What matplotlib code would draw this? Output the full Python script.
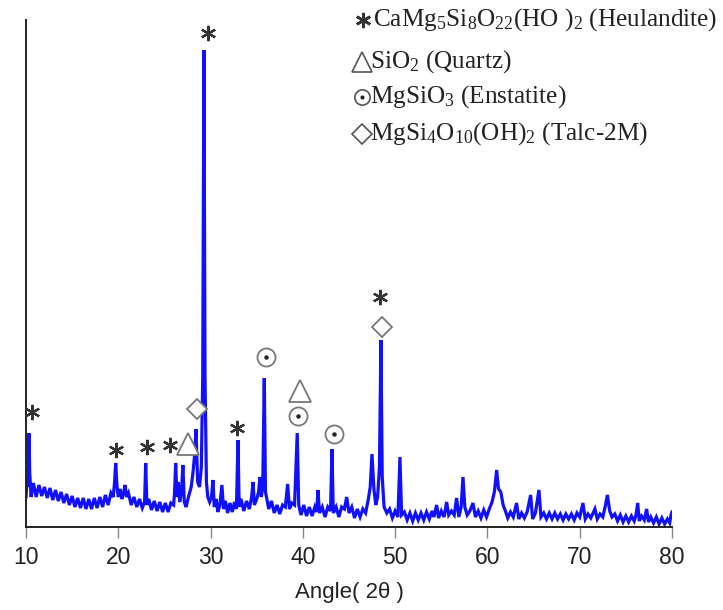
import matplotlib
matplotlib.use("Agg")
import matplotlib.pyplot as plt

# ---- data: XRD pattern (2theta, intensity a.u.) ----
two_theta = [
    10.00, 10.10, 10.20, 10.28, 10.33, 10.40, 10.48, 10.55,
    10.8, 11.1, 11.4, 11.7, 12.0, 12.3, 12.6, 12.9, 13.2, 13.5, 13.8, 14.1,
    14.4, 14.7, 15.0, 15.3, 15.6, 15.9, 16.2, 16.5, 16.8, 17.1, 17.4, 17.7,
    18.0, 18.3, 18.6, 18.9, 19.2, 19.45, 19.6, 19.72, 19.85, 20.0, 20.2, 20.4,
    20.6, 20.73, 20.9, 21.1, 21.4, 21.7, 22.0, 22.3, 22.6, 22.85, 22.97, 23.1,
    23.3, 23.6, 23.9, 24.2, 24.5, 24.8, 25.1, 25.4, 25.7, 26.0, 26.1, 26.22,
    26.35, 26.5, 26.65, 26.85, 27.0, 27.15, 27.35, 27.6, 27.9, 28.1, 28.25, 28.42,
    28.6, 28.8, 29.0, 29.15, 29.28, 29.4, 29.55, 29.7, 29.9, 30.1, 30.26, 30.4,
    30.6, 30.8, 31.0, 31.23, 31.4, 31.6, 31.85, 32.1, 32.35, 32.6, 32.8, 32.97,
    33.1, 33.3, 33.6, 33.9, 34.2, 34.45, 34.6, 34.75, 35.0, 35.2, 35.35, 35.5,
    35.65, 35.82, 35.95, 36.1, 36.3, 36.6, 36.9, 37.2, 37.5, 37.8, 38.1, 38.35,
    38.55, 38.8, 39.1, 39.39, 39.55, 39.8, 40.1, 40.4, 40.7, 41.0, 41.3, 41.5,
    41.64, 41.8, 42.1, 42.4, 42.7, 43.0, 43.15, 43.3, 43.6, 43.9, 44.2, 44.5,
    44.75, 45.0, 45.3, 45.6, 45.9, 46.2, 46.5, 46.8, 47.1, 47.3, 47.49, 47.7,
    47.9, 48.1, 48.3, 48.46, 48.6, 48.8, 49.1, 49.4, 49.7, 50.0, 50.3, 50.52,
    50.7, 51.0, 51.3, 51.6, 51.9, 52.2, 52.5, 52.8, 53.1, 53.4, 53.7, 54.0,
    54.2, 54.5, 54.7, 55.0, 55.3, 55.58, 55.8, 56.1, 56.4, 56.66, 56.9, 57.15,
    57.35, 57.55, 57.8, 58.1, 58.43, 58.7, 59.0, 59.3, 59.6, 59.9, 60.2, 60.5,
    60.75, 61.0, 61.2, 61.45, 61.7, 61.95, 62.2, 62.5, 62.8, 63.16, 63.4, 63.7,
    64.0, 64.3, 64.68, 64.9, 65.2, 65.58, 65.8, 66.1, 66.4, 66.7, 67.0, 67.3,
    67.6, 67.9, 68.2, 68.5, 68.8, 69.1, 69.4, 69.7, 70.0, 70.35, 70.6, 70.9,
    71.2, 71.45, 71.65, 71.9, 72.2, 72.5, 72.75, 73.0, 73.25, 73.5, 73.8, 74.1,
    74.4, 74.7, 75.0, 75.3, 75.6, 75.9, 76.1, 76.28, 76.45, 76.7, 77.0, 77.25,
    77.45, 77.7, 78.0, 78.3, 78.6, 78.9, 79.2, 79.5, 79.75, 79.9, 80.0,
]
intensity = [
    30, 45, 40, 60, 94, 55, 42, 30,
    44, 30, 42, 31, 40, 29, 39, 27, 37, 26, 35, 24,
    33, 22, 31, 20, 29, 19, 29, 18, 28, 18, 29, 19,
    30, 20, 32, 22, 34, 30, 45, 64, 42, 30, 38, 28,
    35, 42, 30, 34, 22, 30, 20, 28, 19, 25, 64, 22,
    28, 17, 26, 16, 25, 15, 24, 15, 24, 22, 35, 64,
    30, 45, 25, 35, 62, 25, 20, 30, 40, 55, 70, 98,
    45, 40, 60, 150, 477, 150, 45, 30, 25, 30, 47, 20,
    28, 15, 22, 42, 18, 26, 14, 24, 15, 25, 18, 87,
    20, 28, 16, 26, 18, 30, 45, 22, 28, 35, 50, 30,
    40, 149, 35, 28, 18, 26, 14, 22, 13, 22, 20, 43,
    18, 24, 22, 94, 22, 12, 22, 11, 20, 11, 20, 15,
    37, 14, 20, 10, 20, 16, 78, 14, 20, 10, 20, 18,
    30, 14, 20, 9, 18, 10, 18, 14, 28, 40, 73, 38,
    22, 30, 60, 187, 50, 20, 14, 18, 9, 16, 10, 70,
    12, 15, 7, 14, 6, 14, 7, 14, 7, 15, 8, 16,
    10, 22, 9, 16, 10, 25, 12, 16, 12, 29, 10, 20,
    50, 20, 12, 16, 24, 10, 16, 9, 17, 10, 18, 25,
    35, 57, 38, 35, 22, 16, 9, 15, 10, 24, 8, 14,
    9, 15, 32, 8, 14, 37, 10, 14, 8, 14, 8, 14,
    8, 13, 7, 13, 8, 13, 7, 14, 10, 24, 8, 13,
    9, 14, 18, 8, 13, 10, 20, 32, 16, 10, 13, 6,
    12, 5, 11, 5, 11, 6, 12, 24, 6, 11, 7, 18,
    5, 10, 4, 10, 3, 9, 3, 8, 4, 12, 15,
]

x_ticks = [10, 20, 30, 40, 50, 60, 70, 80]
x_label = "Angle( 2θ )"

# phase markers: (2theta, intensity) where each symbol sits
heulandite_marks = [(10.62, 115), (19.72, 77), (23.08, 80), (25.6, 82),
                    (29.69, 494), (32.86, 99), (48.35, 230)]
quartz_marks = [(27.58, 83), (39.69, 136)]
enstatite_marks = [(36.0, 170), (39.44, 111), (43.4, 93)]
talc_marks = [(28.49, 118), (48.54, 200)]

legend_labels = [
    r"CaMg$_5$Si$_8$O$_{22}$(HO )$_2$ (Heulandite)",
    r"SiO$_2$ (Quartz)",
    r"MgSiO$_3$ (Enstatite)",
    r"MgSi$_4$O$_{10}$(OH)$_2$ (Talc-2M)",
]

plt.rcParams["mathtext.fontset"] = "custom"
plt.rcParams["mathtext.rm"] = "Liberation Serif"
plt.rcParams["mathtext.it"] = "Liberation Serif:italic"
plt.rcParams["mathtext.bf"] = "Liberation Serif:bold"

fig = plt.figure(figsize=(7.23, 6.10), dpi=100)
ax = fig.add_axes([26 / 723, 1 - 527 / 610, (672 - 26) / 723, (527 - 20) / 610])

ax.plot(two_theta, intensity, color="#1010ff", lw=2.3, solid_joinstyle="miter")
ax.set_xlim(10, 80)
ax.set_ylim(0, 507)

for s in ("top", "right"):
    ax.spines[s].set_visible(False)
for s in ("left", "bottom"):
    ax.spines[s].set_linewidth(1.4)
    ax.spines[s].set_color("#222222")
ax.set_yticks([])
ax.set_xticks(x_ticks)
ax.tick_params(axis="x", direction="out", length=8, width=1.0, color="#888888",
               labelsize=16.5, labelcolor="#222222", pad=6)
for lab in ax.get_xticklabels():
    lab.set_fontfamily("Liberation Sans")
ax.set_xlabel(x_label, fontsize=16, family="Liberation Sans", color="#222222", labelpad=9)

grey = "#777777"
dark = "#333333"
kw = dict(linestyle="none", clip_on=False, zorder=5)
ax.plot(*zip(*heulandite_marks), marker=(6, 2, 0), ms=11, mew=1.6, mec=dark, **kw)
ax.plot(*zip(*quartz_marks), marker="^", ms=16, mfc="white", mec=grey, mew=1.3, **kw)
ax.plot(*zip(*enstatite_marks), marker="o", ms=13, mfc="white", mec=grey, mew=1.3, **kw)
ax.plot(*zip(*enstatite_marks), marker="o", ms=2.2, color="#222222", **kw)
ax.plot(*zip(*talc_marks), marker="D", ms=10, mfc="white", mec=grey, mew=1.3, **kw)

# legend block (figure pixel coordinates)
def fx(px):
    return px / 723
def fy(py):
    return 1 - py / 610

sym_x = 362
rows_y = [20, 62, 97, 134]
fig.lines.append(plt.Line2D([fx(sym_x + 1)], [fy(rows_y[0])], marker=(6, 2, 0), ms=11,
                            mew=1.9, mec=dark, linestyle="none", transform=fig.transFigure))
fig.lines.append(plt.Line2D([fx(sym_x)], [fy(rows_y[1])], marker="^", ms=14, mfc="white",
                            mec="#555555", mew=1.2, linestyle="none", transform=fig.transFigure))
fig.lines.append(plt.Line2D([fx(sym_x)], [fy(rows_y[2])], marker="o", ms=11, mfc="white",
                            mec="#555555", mew=1.2, linestyle="none", transform=fig.transFigure))
fig.lines.append(plt.Line2D([fx(sym_x)], [fy(rows_y[2])], marker="o", ms=2, color="#222222",
                            linestyle="none", transform=fig.transFigure))
fig.lines.append(plt.Line2D([fx(sym_x)], [fy(rows_y[3])], marker="D", ms=10, mfc="white",
                            mec="#555555", mew=1.2, linestyle="none", transform=fig.transFigure))
text_x = [373, 370, 370, 370]
for lbl, ty, tx in zip(legend_labels, rows_y, text_x):
    fig.text(fx(tx), fy(ty), lbl, fontsize=18.2, family="Liberation Serif",
             color="#222222", va="center", ha="left")

fig.savefig("out.png", dpi=100, facecolor="white")
